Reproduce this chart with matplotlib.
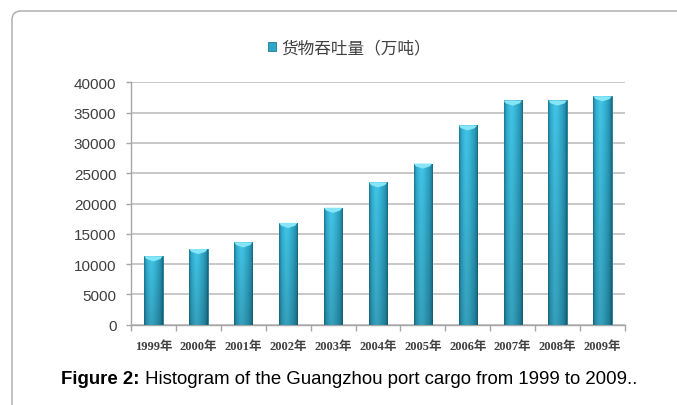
import numpy as np
import matplotlib
matplotlib.use("Agg")
import matplotlib.pyplot as plt
from matplotlib.patches import Patch, Polygon, PathPatch
from matplotlib.path import Path

# ================= DATA =================
years = ["1999年", "2000年", "2001年", "2002年", "2003年", "2004年",
         "2005年", "2006年", "2007年", "2008年", "2009年"]
cargo = [11300, 12500, 13600, 16800, 19300, 23500,
         26600, 32900, 37000, 37000, 37700]
legend_label = "货物吞吐量（万吨）"
caption_bold = "Figure 2:"
caption_rest = " Histogram of the Guangzhou port cargo from 1999 to 2009.."
y_ticks = [0, 5000, 10000, 15000, 20000, 25000, 30000, 35000, 40000]

# ================= FIGURE =================
fig = plt.figure(figsize=(6.77, 4.06), dpi=100)
fig.patch.set_facecolor("white")

# rounded frame (only left/top visible), pixel coords
frame_path = Path([(12, 0), (12, 385), (12, 394), (21, 394), (677, 394)],
                  [Path.MOVETO, Path.LINETO, Path.CURVE3, Path.CURVE3,
                   Path.LINETO])
frame = PathPatch(frame_path, transform=None, fill=False,
                  edgecolor="#a8a8a8", linewidth=1.0)
fig.patches.append(frame)

ax = fig.add_axes([131 / 677, 80.3 / 406, 494 / 677, 242.4 / 406])

x = np.arange(len(years))
bar_w = 0.41
bars = ax.bar(x, cargo, width=bar_w, color="#2ea6c8", edgecolor="#1c7890",
              linewidth=0.6, zorder=3)

# gradient fill for bars
stops_x = [0.0, 0.12, 0.35, 0.5, 0.8, 0.93, 1.0]
cols = np.array([[0x1c, 0x7a, 0x94], [0x2f, 0xaa, 0xcc], [0x42, 0xc5, 0xe6],
                 [0x3e, 0xbf, 0xe1], [0x2c, 0xa0, 0xc0], [0x22, 0x89, 0xa6],
                 [0x17, 0x69, 0x80]]) / 255.0
xs = np.linspace(0, 1, 40)
prof = np.stack([np.interp(xs, stops_x, cols[:, k]) for k in range(3)], axis=1)
shade = np.linspace(1.0, 0.82, 60)[:, None, None]
grad = np.clip(prof[None, :, :] * shade, 0, 1)

cap_h = 850
for b, v in zip(bars, cargo):
    x0 = b.get_x()
    x1 = x0 + b.get_width()
    im = ax.imshow(grad, extent=(x0, x1, 0, v), aspect="auto",
                   interpolation="bilinear", zorder=3.5)
    im.set_clip_path(b)
    xc = (x0 + x1) / 2
    cap = Polygon([(x0, v), (x1, v), (x1 - bar_w * 0.12, v - cap_h * 0.55),
                   (xc, v - cap_h), (x0 + bar_w * 0.12, v - cap_h * 0.55)],
                  closed=True, facecolor="#86e6f8", edgecolor="none",
                  zorder=4)
    ax.add_patch(cap)

ax.set_xlim(-0.5, len(years) - 0.5)
ax.set_ylim(0, 40000)
ax.set_yticks(y_ticks)
ax.set_yticklabels([str(t) for t in y_ticks])
ax.yaxis.grid(True, color="#c4c4c4", linewidth=1.3, zorder=0)
ax.set_axisbelow(True)

for s in ["top", "right"]:
    ax.spines[s].set_visible(False)
for s in ["left", "bottom"]:
    ax.spines[s].set_color("#a6a6a6")
    ax.spines[s].set_linewidth(1.0)

ax.set_xticks(x)
ax.set_xticklabels(years)
ax.set_xticks(np.arange(len(years) + 1) - 0.5, minor=True)
ax.tick_params(axis="x", which="major", length=0, pad=11)
ax.tick_params(axis="x", which="minor", length=4, color="#a6a6a6", width=1.0)
ax.tick_params(axis="y", length=3.5, color="#a6a6a6", width=1.0, pad=7)

for lab in ax.get_yticklabels():
    lab.set_fontfamily("Liberation Sans")
    lab.set_fontsize(11)
    lab.set_color("#404040")
for lab in ax.get_xticklabels():
    lab.set_fontfamily(["Liberation Serif", "Noto Sans CJK SC"])
    lab.set_fontsize(9)
    lab.set_fontweight("bold")
    lab.set_color("#404040")

# legend
handle = Patch(facecolor="#2ea6c8", edgecolor="#1c7890", linewidth=0.6)
fig.legend(handles=[handle], labels=[legend_label], loc="center",
           bbox_to_anchor=(349 / 677, 1 - 49 / 406), frameon=False,
           handlelength=0.5, handleheight=0.5, handletextpad=0.3,
           prop={"family": "Noto Sans CJK SC", "size": 12},
           labelcolor="#404040")

# caption
renderer = fig.canvas.get_renderer()
t1 = fig.text(61 / 677, 1 - 380 / 406, caption_bold, fontsize=13.4,
              fontweight="bold", family="Liberation Sans", va="center",
              color="black")
bb = t1.get_window_extent(renderer=renderer)
fig.text(bb.x1 / 677, 1 - 380 / 406, caption_rest, fontsize=13.4,
         family="Liberation Sans", va="center", color="black")

fig.savefig("out.png", dpi=100)
